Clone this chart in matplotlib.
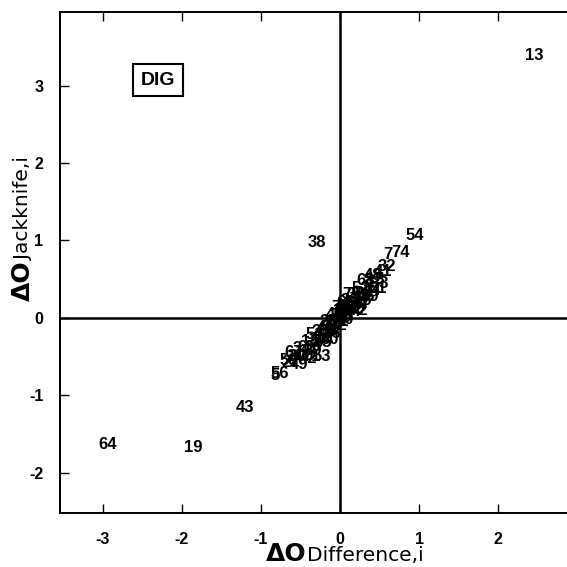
import matplotlib
matplotlib.use("Agg")
import matplotlib.pyplot as plt

plt.rcParams['font.family'] = ['Liberation Sans', 'DejaVu Sans']

# Case labels and their (difference, jackknife) values
labels = [13, 54, 74, 7, 32, 38, 43, 64, 19, 53, 56, 5,
          1, 2, 3, 4, 6, 8, 9, 10, 11, 12, 14, 15, 16, 17, 18, 20,
          21, 22, 23, 24, 25, 26, 27, 28, 29, 30, 31, 33, 34, 35, 36, 37,
          39, 40, 41, 42, 44, 45, 46, 47, 48, 49, 50, 51, 52, 55, 57, 58,
          59, 60, 61, 62, 63, 65, 66, 67, 68, 69, 70, 71, 72, 73, 75]
x_diff = [2.46, 0.95, 0.76, 0.60, 0.59, -0.29, -1.20, -2.94, -1.86, -0.23, -0.76, -0.82,
          0.05, -0.12, 0.22, -0.30, 0.10, -0.05, 0.35, -0.45, 0.02, -0.20, 0.15, -0.38, 0.28, -0.08, 0.45, -0.55,
          0.00, 0.18, -0.25, 0.40, -0.15, 0.08, -0.62, 0.30, -0.35, 0.12, -0.02, 0.50, -0.48, 0.20, -0.10, 0.25,
          -0.28, 0.06, 0.55, -0.40, 0.15, -0.18, 0.33, -0.06, 0.42, -0.52, 0.03, -0.32, 0.26, -0.22, 0.10, -0.65,
          0.38, -0.13, 0.48, -0.03, 0.20, -0.42, 0.07, -0.58, 0.32, -0.16, 0.00, -0.36, 0.24, -0.09, 0.14]
y_jack = [3.39, 1.07, 0.85, 0.82, 0.66, 0.98, -1.16, -1.64, -1.68, -0.50, -0.72, -0.74,
          0.08, -0.10, 0.25, -0.35, 0.05, -0.02, 0.40, -0.48, 0.10, -0.25, 0.18, -0.30, 0.22, -0.15, 0.50, -0.50,
          -0.05, 0.12, -0.18, 0.35, -0.05, 0.15, -0.58, 0.32, -0.42, 0.22, 0.03, 0.45, -0.40, 0.30, -0.20, 0.15,
          -0.28, -0.02, 0.60, -0.52, 0.08, -0.12, 0.28, 0.05, 0.55, -0.60, 0.00, -0.22, 0.38, -0.32, 0.12, -0.55,
          0.28, -0.28, 0.38, -0.10, 0.18, -0.38, 0.20, -0.45, 0.48, -0.18, 0.14, -0.50, 0.10, -0.06, 0.30]

xticks = [-3, -2, -1, 0, 1, 2]
yticks = [-2, -1, 0, 1, 2, 3]

fig = plt.figure(figsize=(5.67, 5.67), dpi=100)
ax = fig.add_axes([0.1058, 0.0952, 0.8942, 0.8836])
ax.set_xlim(-3.54, 2.87)
ax.set_ylim(-2.52, 3.95)

ax.axhline(0, color='black', lw=1.8, zorder=1)
ax.axvline(0, color='black', lw=1.8, zorder=1)

for lab, xv, yv in zip(labels, x_diff, y_jack):
    ax.text(xv, yv, str(lab), ha='center', va='center', fontsize=12,
            fontweight='bold', color='black', zorder=3)

ax.text(-2.30, 3.07, 'DIG', ha='center', va='center', fontsize=14,
        fontweight='bold',
        bbox=dict(boxstyle='square,pad=0.38', fc='white', ec='black', lw=1.5))

ax.set_xticks(xticks)
ax.set_yticks(yticks)
ax.set_xticklabels([str(t) for t in xticks], fontsize=11.5, fontweight='bold')
ax.set_yticklabels([str(t) for t in yticks], fontsize=11.5, fontweight='bold')
ax.tick_params(direction='in', length=6.5, width=1, top=True, right=False)
ax.tick_params(axis='x', pad=14)
ax.tick_params(axis='y', pad=12)
ax.spines['right'].set_visible(False)
for s in ['left', 'bottom', 'top']:
    ax.spines[s].set_linewidth(1.4)

# axis labels: large "ΔO" followed by smaller text on the same baseline
lab_font = ['DejaVu Sans']
fig.text(0.541, 0.010, 'ΔO', ha='right', va='baseline', fontsize=18,
         fontweight='bold', family=lab_font)
fig.text(0.541, 0.010, 'Difference,i', ha='left', va='baseline', fontsize=14.5,
         family=lab_font)
fig.text(0.052, 0.541, 'ΔO', ha='right', va='baseline', rotation=90,
         rotation_mode='anchor', fontsize=18, fontweight='bold', family=lab_font)
fig.text(0.052, 0.541, 'Jackknife,i', ha='left', va='baseline', rotation=90,
         rotation_mode='anchor', fontsize=14.5, family=lab_font)

fig.savefig('out.png', dpi=100)
